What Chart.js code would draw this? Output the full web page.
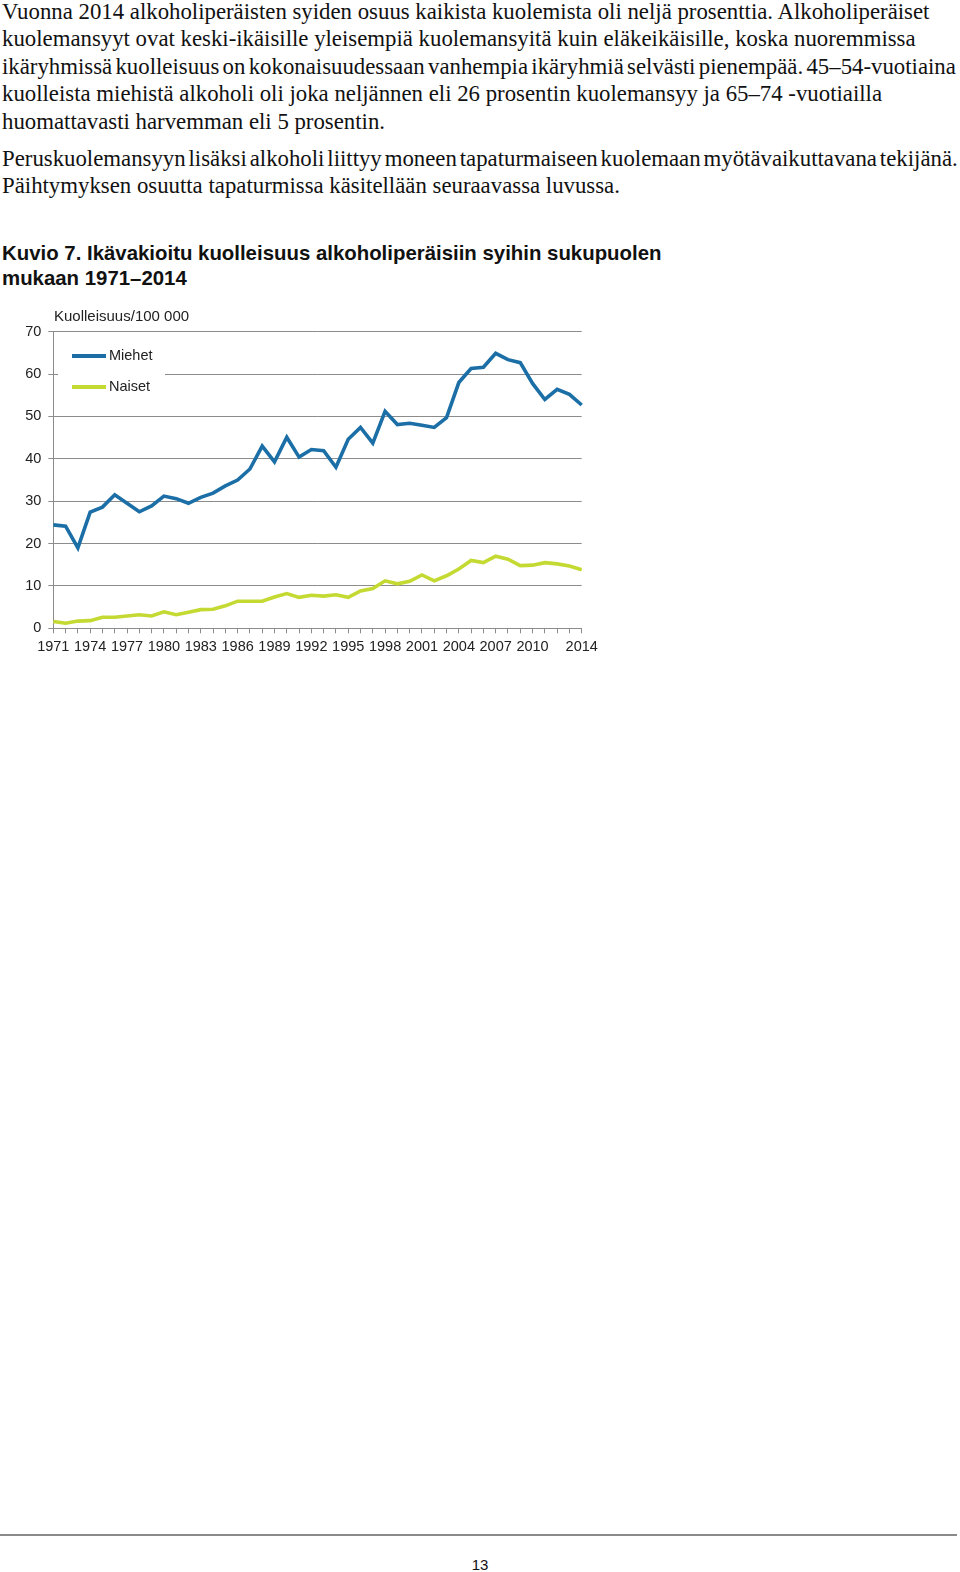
<!DOCTYPE html>
<html>
<head>
<meta charset="utf-8">
<script src="https://cdn.jsdelivr.net/npm/chart.js@4"></script>
<style>
  html, body { margin: 0; padding: 0; background: #fff; }
  body { width: 960px; height: 1572px; position: relative; overflow: hidden; }
  .para { position: absolute; left: 2px; font-family: "Liberation Serif", "Times New Roman", serif; font-size: 22.8px; line-height: 27.4px; color: #111; white-space: nowrap; }
  .title { position: absolute; left: 2px; top: 241px; font-family: "Liberation Sans", Arial, sans-serif; font-weight: bold; font-size: 20.4px; line-height: 25px; color: #111; white-space: nowrap; }
  #chartbox { position: absolute; left: 0; top: 300px; width: 620px; height: 360px; }
  .ytitle { position: absolute; left: 54px; top: 307px; font-family: "Liberation Sans", Arial, sans-serif; font-size: 15px; color: #222; white-space: nowrap; }
  .legend { position: absolute; left: 58px; top: 342px; width: 107px; height: 56px; background: #fff; font-family: "Liberation Sans", Arial, sans-serif; font-size: 14.5px; color: #222; }
  .legend .item { position: absolute; left: 14px; height: 20px; }
  .legend .sw { position: absolute; left: 0; top: 8px; width: 34px; height: 4px; }
  .legend .lbl { position: absolute; left: 37px; top: 1px; white-space: nowrap; }
  .rule { position: absolute; left: 0; top: 1534px; width: 957px; height: 2px; background: #8a8a8a; }
  .pagenum { position: absolute; left: 0; width: 960px; top: 1556px; text-align: center; font-family: "Liberation Sans", Arial, sans-serif; font-size: 15px; color: #111; }
</style>
</head>
<body>
<div class="para" style="top:-2px;">
Vuonna 2014 alkoholiperäisten syiden osuus kaikista kuolemista oli neljä prosenttia. Alkoholiperäiset<br>
kuolemansyyt ovat keski-ikäisille yleisempiä kuolemansyitä kuin eläkeikäisille, koska nuoremmissa<br>
<span style="word-spacing:-2.4px;">ikäryhmissä kuolleisuus on kokonaisuudessaan vanhempia ikäryhmiä selvästi pienempää. 45–54-vuotiaina</span><br>
kuolleista miehistä alkoholi oli joka neljännen eli 26 prosentin kuolemansyy ja 65–74 -vuotiailla<br>
huomattavasti harvemman eli 5 prosentin.
</div>
<div class="para" style="top:145px;">
<span style="word-spacing:-2.8px;">Peruskuolemansyyn lisäksi alkoholi liittyy moneen tapaturmaiseen kuolemaan myötävaikuttavana tekijänä.</span><br>
Päihtymyksen osuutta tapaturmissa käsitellään seuraavassa luvussa.
</div>
<div class="title">Kuvio 7. Ikävakioitu kuolleisuus alkoholiperäisiin syihin sukupuolen<br>mukaan 1971–2014</div>

<div id="chartbox"><canvas id="c" width="620" height="360"></canvas></div>
<div class="ytitle">Kuolleisuus/100 000</div>
<div class="legend">
  <div class="item" style="top:4px;"><div class="sw" style="background:#1b6fa6;"></div><div class="lbl">Miehet</div></div>
  <div class="item" style="top:35px;"><div class="sw" style="background:#c4da33;"></div><div class="lbl">Naiset</div></div>
</div>

<div class="rule"></div>
<div class="pagenum">13</div>

<script>
const years = [1971,1972,1973,1974,1975,1976,1977,1978,1979,1980,1981,1982,1983,1984,1985,1986,1987,1988,1989,1990,1991,1992,1993,1994,1995,1996,1997,1998,1999,2000,2001,2002,2003,2004,2005,2006,2007,2008,2009,2010,2011,2012,2013,2014];
const miehet = [24.4,24.1,19.0,27.4,28.6,31.5,29.5,27.5,28.9,31.2,30.6,29.5,30.9,31.9,33.6,35.0,37.6,43.0,39.3,45.1,40.4,42.2,41.9,38.0,44.6,47.4,43.7,51.2,48.1,48.4,47.9,47.4,49.7,58.0,61.3,61.6,64.9,63.4,62.7,57.8,54.0,56.4,55.2,52.7];
const naiset = [1.6,1.2,1.7,1.8,2.6,2.6,2.9,3.2,2.9,3.9,3.2,3.8,4.4,4.5,5.3,6.4,6.4,6.4,7.4,8.2,7.3,7.8,7.6,7.9,7.3,8.8,9.4,11.2,10.5,11.1,12.6,11.2,12.4,14.0,16.0,15.5,17.0,16.3,14.8,14.9,15.5,15.2,14.7,13.8];
const labelledYears = [1971,1974,1977,1980,1983,1986,1989,1992,1995,1998,2001,2004,2007,2010,2014];
const yTicks = [0,10,20,30,40,50,60,70];

const gridColor = '#8c8c8c';
const tickFont = { family: '"Liberation Sans", Arial, sans-serif', size: 14.5 };

new Chart(document.getElementById('c'), {
  type: 'line',
  data: {
    labels: years.map(String),
    datasets: [
      { label: 'Miehet', data: miehet, borderColor: '#1b6fa6', borderWidth: 3.6, pointRadius: 0, tension: 0, fill: false },
      { label: 'Naiset', data: naiset, borderColor: '#c4da33', borderWidth: 3.6, pointRadius: 0, tension: 0, fill: false }
    ]
  },
  options: {
    responsive: false,
    animation: false,
    devicePixelRatio: 1,
    layout: { padding: { top: 31.7, right: 38.3, left: 0, bottom: 0 } },
    plugins: { legend: { display: false }, tooltip: { enabled: false } },
    scales: {
      x: {
        type: 'category',
        offset: false,
        afterFit: s => { s.height = 31.7; },
        grid: { drawOnChartArea: false, drawTicks: true, tickLength: 5, color: gridColor, lineWidth: 1 },
        border: { display: true, color: gridColor, width: 1 },
        ticks: {
          autoSkip: false, maxRotation: 0, minRotation: 0, padding: 5,
          color: '#222', font: tickFont,
          callback: function(v, i) { const y = years[i]; return labelledYears.includes(y) ? String(y) : ''; }
        }
      },
      y: {
        min: 0, max: 70,
        afterFit: s => { s.width = 53.3; },
        afterBuildTicks: s => { s.ticks = yTicks.map(v => ({ value: v })); },
        grid: { drawOnChartArea: true, drawTicks: true, tickLength: 5, color: gridColor, lineWidth: 1 },
        border: { display: true, color: gridColor, width: 1 },
        ticks: { padding: 7, color: '#222', font: tickFont }
      }
    }
  }
});
</script>
</body>
</html>
